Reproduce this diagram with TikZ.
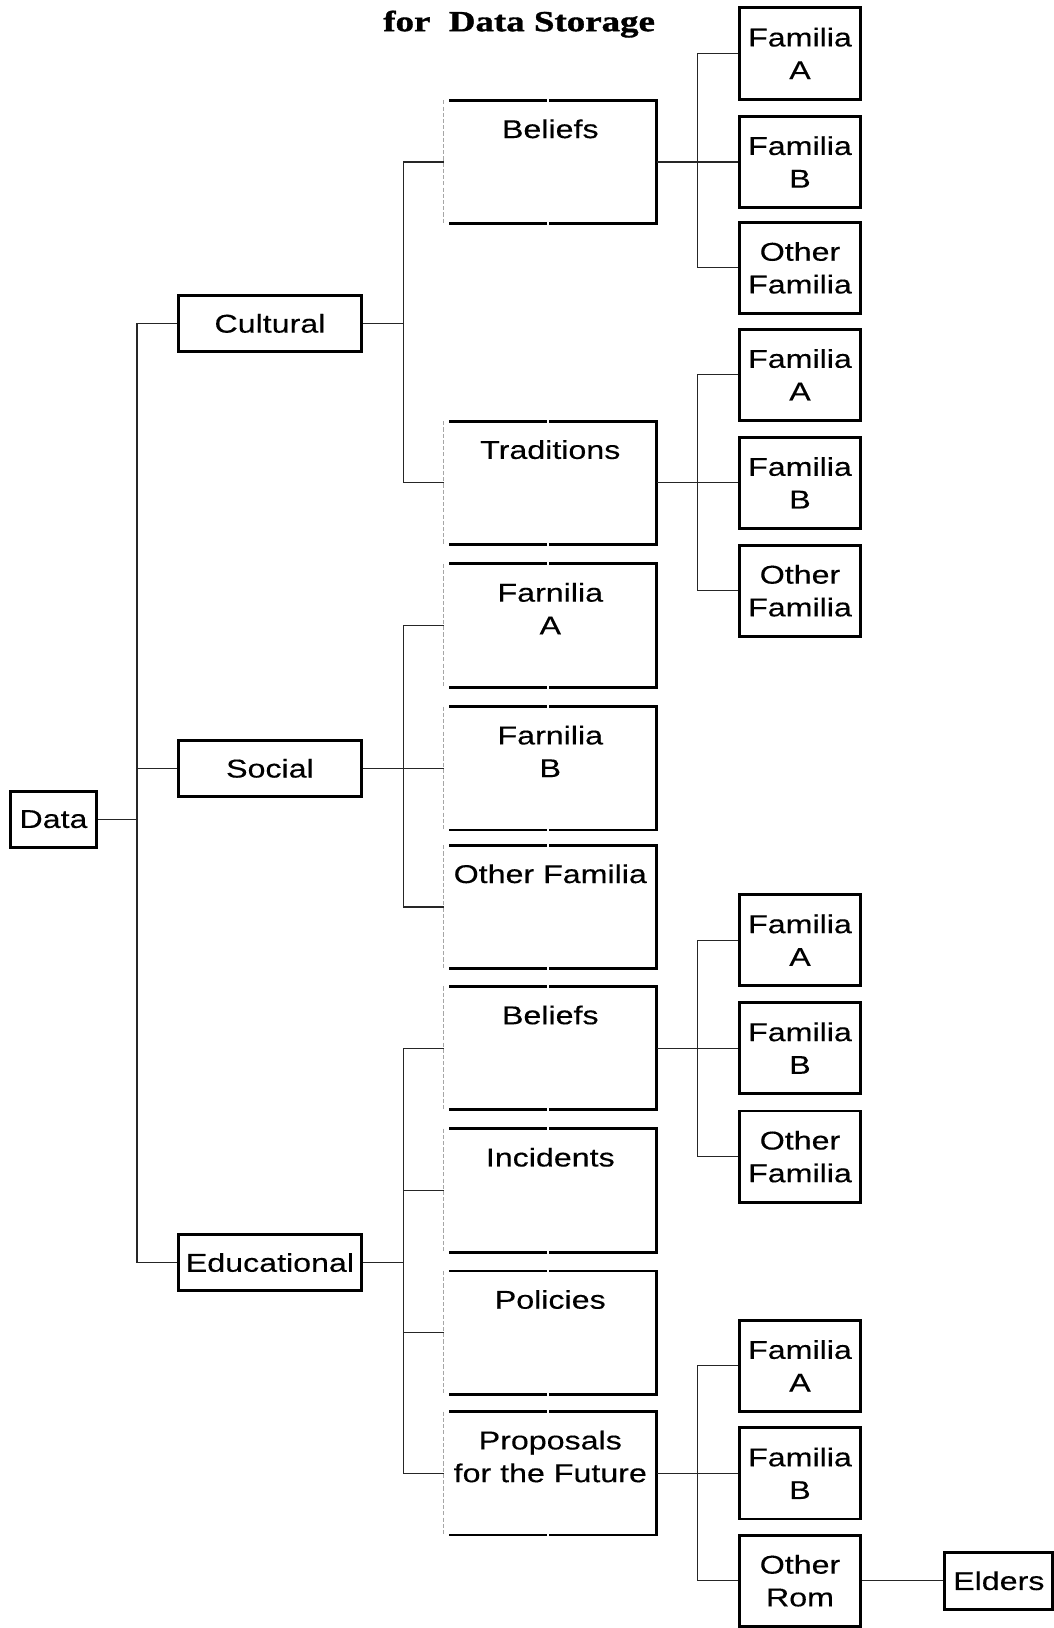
\documentclass[tikz,border=0pt]{standalone}
\usepackage{fontspec}
\setmainfont{Liberation Sans}[FakeStretch=1.25,FakeBold=0.3]
\newfontfamily\titlefnt{Liberation Serif}[FakeStretch=1.27,FakeBold=1.2]
\newcommand\bodyfnt{\fontsize{12.4}{15.75}\selectfont}
\tikzset{
  conn/.style={line width=0.55pt, draw=black!85},
  boxline/.style={line width=1.4pt, line join=miter},
  topbox/.style={draw, boxline, inner sep=0pt, minimum width=88pt, minimum height=27pt, font=\bodyfnt},
  rbox/.style={draw, boxline, inner sep=0pt, minimum width=58.5pt, minimum height=44pt, align=center, font=\bodyfnt},
  midbox/.style={inner sep=0pt, minimum width=102pt, minimum height=59pt},
  midtext/.style={inner sep=0pt, anchor=north, align=center, font=\bodyfnt},
  faint/.style={line width=0.5pt, draw=black!35, dash pattern=on 2pt off 1pt},
}
\newcommand\MidBorder[1]{%
  \draw[boxline] ([xshift=2.5pt]#1.north west) -- ([xshift=-1.5pt]#1.north)
    ([xshift=-0.5pt]#1.north) -- (#1.north east) -- (#1.south east) -- ([xshift=-0.5pt]#1.south)
    ([xshift=-1.5pt]#1.south) -- ([xshift=2.5pt]#1.south west);
  \draw[faint] (#1.north west) -- (#1.south west);
}
\begin{document}
\begin{tikzpicture}[x=0.5pt,y=-0.5pt]
\useasboundingbox (0,0) rectangle (1015,1568);
\fill[white] (0,0) rectangle (1015,1568);

% title
\node[font=\titlefnt\bfseries\fontsize{14}{16}\selectfont, anchor=base, inner sep=0pt] (title) at (500,30) {for\ \ Data Storage};

% level 0/1
\node[topbox, minimum width=41.5pt] (data) at (51.5,789) {Data};
\node[topbox] (cult) at (260,311.5) {Cultural};
\node[topbox] (soc) at (260,740) {Social};
\node[topbox] (educ) at (260,1216) {Educational};

% level 2 (open boxes)
\node[midbox] (m1) at (530,156) {};
\node[midbox] (m2) at (530,465) {};
\node[midbox] (m3) at (530,602.5) {};
\node[midbox] (m4) at (530,740) {};
\node[midbox] (m5) at (530,873.5) {};
\node[midbox] (m6) at (530,1009.5) {};
\node[midbox] (m7) at (530,1146.5) {};
\node[midbox] (m8) at (530,1283.5) {};
\node[midbox] (m9) at (530,1419) {};
\foreach \m in {m1,m2,m3,m4,m5,m6,m7,m8,m9} {\MidBorder{\m}}

\node[midtext] (t1) at ([yshift=-9pt]m1.north) {Beliefs};
\node[midtext] (t2) at ([yshift=-9pt]m2.north) {Traditions};
\node[midtext] (t3) at ([yshift=-9pt]m3.north) {Farnilia\\A};
\node[midtext] (t4) at ([yshift=-9pt]m4.north) {Farnilia\\B};
\node[midtext] (t5) at ([yshift=-9pt]m5.north) {Other Familia};
\node[midtext] (t6) at ([yshift=-9pt]m6.north) {Beliefs};
\node[midtext] (t7) at ([yshift=-9pt]m7.north) {Incidents};
\node[midtext] (t8) at ([yshift=-9pt]m8.north) {Policies};
\node[midtext] (t9) at ([yshift=-9pt]m9.north) {Proposals\\for the Future};

% level 3
\node[rbox] (r1a) at (770.5,51.5) {Familia\\A};
\node[rbox] (r1b) at (770.5,156) {Familia\\B};
\node[rbox] (r1c) at (770.5,258) {Other\\Familia};
\node[rbox] (r2a) at (770.5,361) {Familia\\A};
\node[rbox] (r2b) at (770.5,465) {Familia\\B};
\node[rbox] (r2c) at (770.5,569) {Other\\Familia};
\node[rbox] (r3a) at (770.5,905.5) {Familia\\A};
\node[rbox] (r3b) at (770.5,1009.5) {Familia\\B};
\node[rbox] (r3c) at (770.5,1114) {Other\\Familia};
\node[rbox] (r4a) at (770.5,1315.5) {Familia\\A};
\node[rbox] (r4b) at (770.5,1419) {Familia\\B};
\node[rbox] (r4c) at (770.5,1522.5) {Other\\Rom};
\node[rbox, minimum width=52pt, minimum height=27.5pt] (eld) at (962,1522.5) {Elders};

% junctions
\coordinate (j0) at (132,789);
\coordinate (k1) at (389,311.5);
\coordinate (k2) at (389,740);
\coordinate (k3) at (389,1216);
\coordinate (q1) at (672,156);
\coordinate (q2) at (672,465);
\coordinate (q3) at (672,1009.5);
\coordinate (q4) at (672,1419);

% connectors level 0-1
\draw[conn] (data.east) -- (j0);
\draw[conn] (cult.west) -| (j0) |- (educ.west);
\draw[conn] (soc.west) -- (soc.west -| j0);

% level 1-2
\draw[conn] (cult.east) -- (k1);
\draw[conn] (m1.west) -| (k1) |- (m2.west);
\draw[conn] (soc.east) -- (m4.west);
\draw[conn] (m3.west) -| (k2) |- (m5.west);
\draw[conn] (educ.east) -- (k3);
\draw[conn] (m6.west) -| (k3) |- (m9.west);
\draw[conn] (m7.west) -- (m7.west -| k3);
\draw[conn] (m8.west) -- (m8.west -| k3);

% level 2-3
\draw[conn] (m1.east) -- (r1b.west);
\draw[conn] (r1a.west) -| (q1) |- (r1c.west);
\draw[conn] (m2.east) -- (r2b.west);
\draw[conn] (r2a.west) -| (q2) |- (r2c.west);
\draw[conn] (m6.east) -- (r3b.west);
\draw[conn] (r3a.west) -| (q3) |- (r3c.west);
\draw[conn] (m9.east) -- (r4b.west);
\draw[conn] (r4a.west) -| (q4) |- (r4c.west);
\draw[conn] (r4c.east) -- (eld.west);
\end{tikzpicture}
\end{document}
